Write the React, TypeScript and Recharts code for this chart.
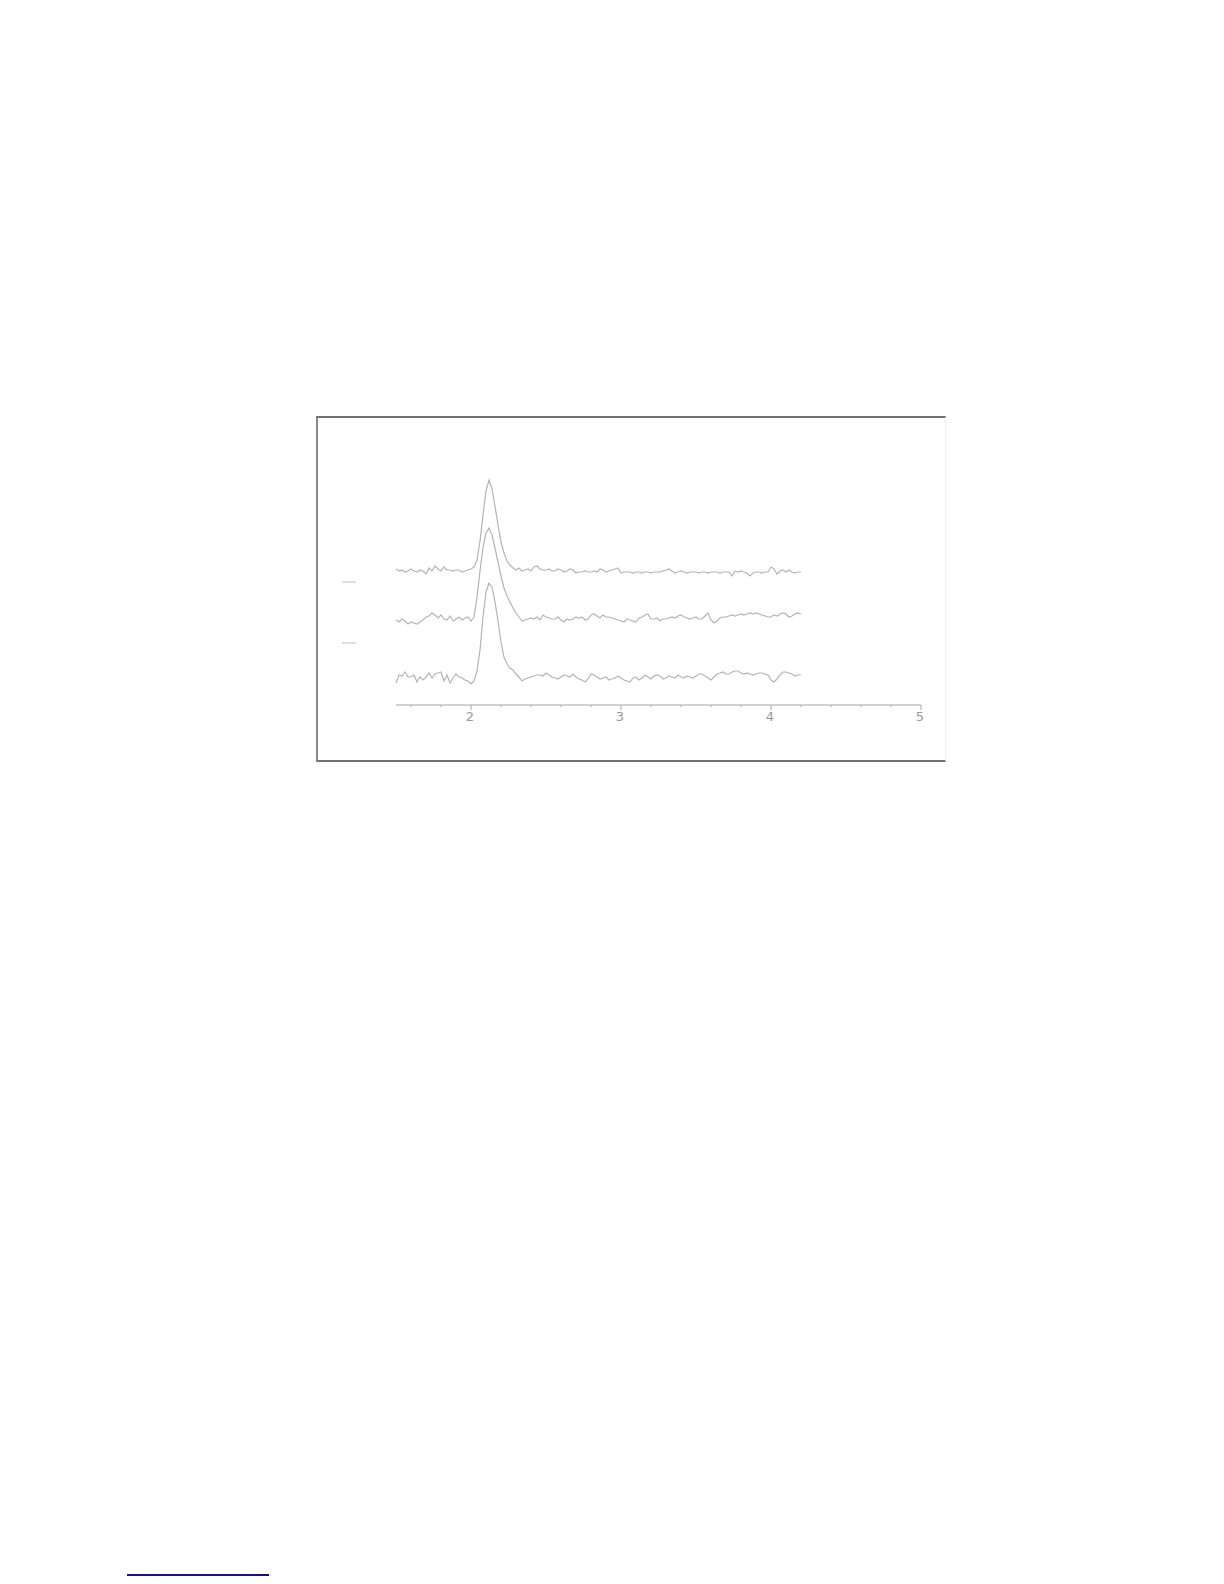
import { LineChart, Line, XAxis, YAxis } from 'recharts'

// retention time (min)
const times = [
  1.5, 1.52, 1.54, 1.56, 1.58, 1.6, 1.62, 1.64, 1.66, 1.68,
  1.7, 1.72, 1.74, 1.76, 1.78, 1.8, 1.82, 1.84, 1.86, 1.88,
  1.9, 1.92, 1.94, 1.96, 1.98, 2, 2.02, 2.04, 2.06, 2.08,
  2.1, 2.12, 2.14, 2.16, 2.18, 2.2, 2.22, 2.24, 2.26, 2.28,
  2.3, 2.32, 2.34, 2.36, 2.38, 2.4, 2.42, 2.44, 2.46, 2.48,
  2.5, 2.52, 2.54, 2.56, 2.58, 2.6, 2.62, 2.64, 2.66, 2.68,
  2.7, 2.72, 2.74, 2.76, 2.78, 2.8, 2.82, 2.84, 2.86, 2.88,
  2.9, 2.92, 2.94, 2.96, 2.98, 3, 3.02, 3.04, 3.06, 3.08,
  3.1, 3.12, 3.14, 3.16, 3.18, 3.2, 3.22, 3.24, 3.26, 3.28,
  3.3, 3.32, 3.34, 3.36, 3.38, 3.4, 3.42, 3.44, 3.46, 3.48,
  3.5, 3.52, 3.54, 3.56, 3.58, 3.6, 3.62, 3.64, 3.66, 3.68,
  3.7, 3.72, 3.74, 3.76, 3.78, 3.8, 3.82, 3.84, 3.86, 3.88,
  3.9, 3.92, 3.94, 3.96, 3.98, 4, 4.02, 4.04, 4.06, 4.08,
  4.1, 4.12, 4.14, 4.16, 4.18, 4.2,
]

// stacked traces (already offset)
const upperTrace = [
  136, 134, 135, 133, 134, 136, 134, 133, 135, 134,
  131, 137, 134, 139, 136, 134, 138, 135, 135, 134,
  135, 135, 133, 134, 135, 136, 138, 145, 164, 190,
  214, 225, 216, 199, 180, 163, 152, 144, 140, 137,
  135, 137, 134, 135, 136, 134, 138, 139, 136, 135,
  135, 136, 134, 134, 136, 135, 133, 134, 136, 135,
  132, 133, 133, 134, 133, 133, 134, 133, 136, 135,
  133, 134, 135, 136, 137, 132, 133, 133, 133, 132,
  133, 133, 132, 133, 133, 132, 133, 133, 133, 134,
  135, 136, 134, 132, 133, 134, 133, 132, 133, 133,
  133, 132, 133, 133, 132, 133, 133, 133, 132, 133,
  133, 133, 129, 134, 133, 134, 133, 132, 129, 132,
  133, 133, 132, 133, 133, 138, 136, 131, 134, 135,
  133, 135, 133, 132, 133, 133,
]

const middleTrace = [
  85, 83, 86, 84, 81, 83, 82, 81, 83, 85,
  88, 89, 92, 90, 87, 90, 86, 85, 89, 84,
  86, 88, 85, 87, 88, 84, 88, 108, 134, 158,
  172, 177, 170, 157, 143, 129, 117, 109, 103, 97,
  92, 88, 84, 85, 86, 87, 86, 88, 85, 90,
  88, 87, 86, 86, 88, 85, 83, 86, 85, 86,
  88, 87, 88, 85, 86, 90, 91, 89, 87, 90,
  88, 88, 87, 86, 85, 84, 83, 86, 85, 84,
  83, 87, 88, 90, 91, 86, 86, 87, 84, 86,
  86, 87, 88, 87, 89, 90, 88, 87, 86, 87,
  88, 86, 86, 89, 92, 85, 82, 84, 87, 88,
  88, 89, 90, 89, 90, 91, 90, 91, 92, 91,
  92, 91, 90, 89, 88, 88, 90, 89, 91, 92,
  91, 88, 89, 91, 92, 91,
]

const lowerTrace = [
  22, 30, 29, 33, 28, 28, 30, 23, 28, 25,
  28, 32, 27, 31, 32, 33, 24, 30, 22, 27,
  31, 28, 27, 25, 24, 21, 24, 34, 55, 88,
  113, 122, 118, 103, 84, 63, 48, 41, 37, 35,
  31, 28, 24, 26, 27, 28, 29, 30, 30, 29,
  32, 30, 28, 27, 26, 28, 30, 29, 28, 31,
  28, 26, 25, 23, 26, 31, 30, 28, 26, 27,
  28, 25, 26, 27, 29, 27, 25, 24, 23, 27,
  28, 25, 27, 30, 28, 26, 29, 30, 29, 26,
  27, 29, 28, 27, 30, 28, 27, 29, 28, 27,
  29, 31, 31, 29, 27, 25, 28, 31, 32, 33,
  31, 31, 33, 34, 34, 32, 31, 32, 31, 30,
  31, 32, 32, 31, 30, 25, 23, 26, 30, 33,
  33, 32, 31, 29, 30, 30,
]

const xTicks = [1.6, 1.8, 2, 2.2, 2.4, 2.6, 2.8, 3, 3.2, 3.4, 3.6, 3.8, 4, 4.2, 4.4, 4.6, 4.8, 5]
const markerLevels = [123, 62]

const rows = times.map((t, i) => ({
  t,
  upper: upperTrace[i],
  middle: middleTrace[i],
  lower: lowerTrace[i],
}))

const TRACE = '#b4b4b4'
const AXIS = '#a4a4a4'

// eslint-disable-next-line @typescript-eslint/no-explicit-any
function TimeTick({ x, y, payload }: any) {
  const major = Number.isInteger(payload.value)
  return (
    <g>
      <line x1={x} x2={x} y1={y} y2={y + (major ? 5 : 2)} stroke={AXIS} strokeWidth={1} />
      {major && (
        <text x={x - 1} y={y + 16} textAnchor="middle" fontSize={13} fill="#999" fontFamily="DejaVu Sans">
          {payload.value}
        </text>
      )}
    </g>
  )
}

// eslint-disable-next-line @typescript-eslint/no-explicit-any
function MarkerTick({ x, y }: any) {
  return <line x1={x - 54} x2={x - 40} y1={y} y2={y} stroke="#bdbdbd" strokeWidth={1} />
}

export default function App() {
  return (
    <div style={{ position: 'absolute', left: 0, top: 0, width: 1224, height: 1584, background: '#fff' }}>
      <div style={{ position: 'absolute', left: 316, top: 416, width: 630, height: 346 }}>
        <LineChart width={630} height={346} data={rows} margin={{ top: 0, right: 25, bottom: 0, left: 0 }}>
          <XAxis
            type="number"
            dataKey="t"
            domain={[1.5, 5]}
            ticks={xTicks}
            interval={0}
            height={57}
            tickLine={false}
            tickSize={0}
            tickMargin={0}
            stroke={AXIS}
            tick={<TimeTick />}
          />
          <YAxis
            type="number"
            domain={[0, 289]}
            width={80}
            ticks={markerLevels}
            interval={0}
            axisLine={false}
            tickLine={false}
            tickSize={0}
            tickMargin={0}
            tick={<MarkerTick />}
          />
          <Line type="linear" dataKey="upper" stroke={TRACE} strokeWidth={1.2} dot={false} isAnimationActive={false} />
          <Line type="linear" dataKey="middle" stroke={TRACE} strokeWidth={1.2} dot={false} isAnimationActive={false} />
          <Line type="linear" dataKey="lower" stroke={TRACE} strokeWidth={1.2} dot={false} isAnimationActive={false} />
        </LineChart>
        <div
          style={{
            position: 'absolute',
            inset: 0,
            boxSizing: 'border-box',
            borderTop: '2px solid #737373',
            borderBottom: '2px solid #737373',
            borderLeft: '2px solid #888',
            borderRight: '1px solid #eeeeee',
            pointerEvents: 'none',
          }}
        />
      </div>
      <div style={{ position: 'absolute', left: 127, top: 1574, width: 142, height: 2, background: '#141480' }} />
    </div>
  )
}
